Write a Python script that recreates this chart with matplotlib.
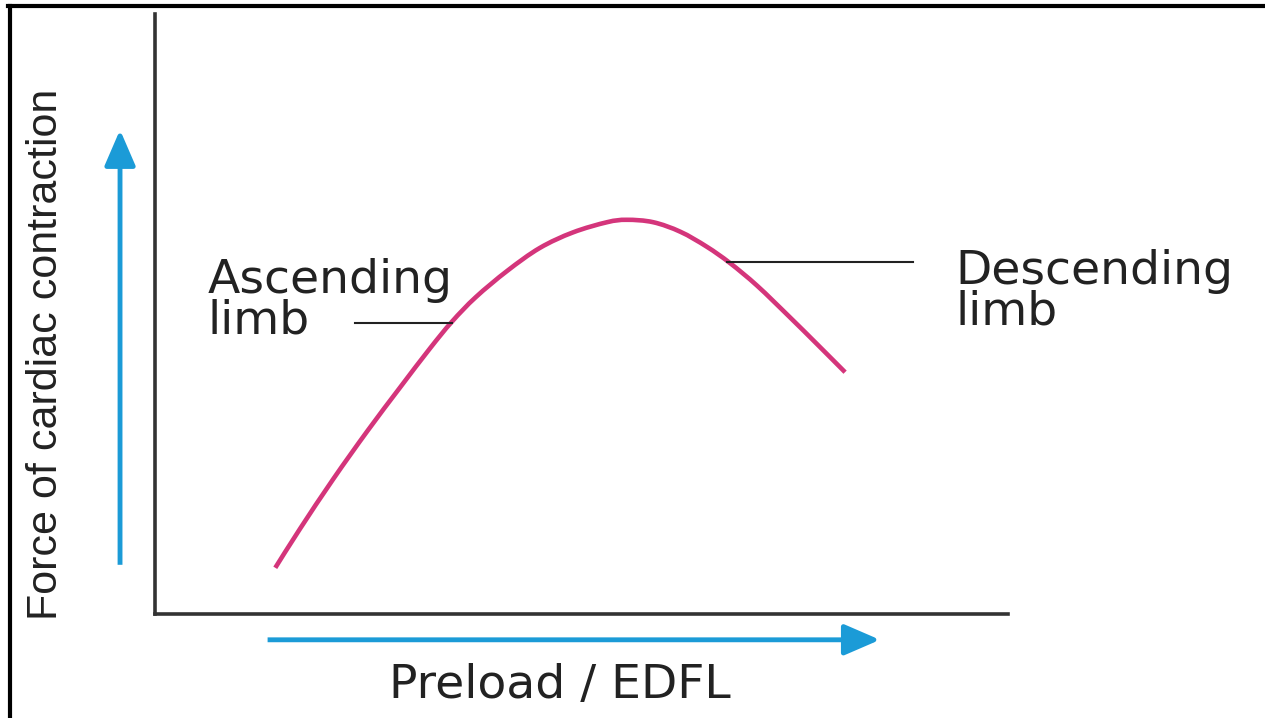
import matplotlib
matplotlib.use("Agg")
import matplotlib.pyplot as plt
from matplotlib.lines import Line2D
from matplotlib.patches import FancyArrowPatch, PathPatch
from matplotlib.path import Path

# curve
preload = [1.41, 1.70, 2.09, 2.49, 2.87, 3.22, 3.48, 3.76, 4.13, 4.51, 4.90,
           5.30, 5.53, 5.84, 6.16, 6.47, 6.74, 7.06, 7.44, 7.76, 8.09]
force = [0.77, 1.42, 2.25, 3.05, 3.77, 4.42, 4.87, 5.28, 5.72, 6.10, 6.36,
         6.53, 6.57, 6.53, 6.37, 6.12, 5.85, 5.47, 4.95, 4.50, 4.03]

x_label = "Preload / EDFL"
y_label = "Force of cardiac contraction"
asc_label = "Ascending\nlimb"
desc_label = "Descending\nlimb"


def smooth_path(xs, ys):
    # Catmull-Rom through the read points, drawn as cubic Bezier segments
    pts = list(zip(xs, ys))
    n = len(pts)
    verts = [pts[0]]
    codes = [Path.MOVETO]
    for i in range(n - 1):
        p0 = pts[max(i - 1, 0)]
        p1 = pts[i]
        p2 = pts[i + 1]
        p3 = pts[min(i + 2, n - 1)]
        c1 = (p1[0] + (p2[0] - p0[0]) / 6, p1[1] + (p2[1] - p0[1]) / 6)
        c2 = (p2[0] - (p3[0] - p1[0]) / 6, p2[1] - (p3[1] - p1[1]) / 6)
        verts += [c1, c2, p2]
        codes += [Path.CURVE4] * 3
    return Path(verts, codes)


W, H = 1265, 718
fig = plt.figure(figsize=(W / 100, H / 100), dpi=100)
fig.patch.set_facecolor("white")

# axes box in pixels: left 155, right 1008, top 14, bottom 614
ax = fig.add_axes([155 / W, (H - 614) / H, 853 / W, 600 / H])
ax.set_xlim(0, 10)
ax.set_ylim(0, 10)
ax.set_facecolor("none")
for s in ["top", "right"]:
    ax.spines[s].set_visible(False)
for s in ["left", "bottom"]:
    ax.spines[s].set_color("#333333")
    ax.spines[s].set_linewidth(2.6)
ax.set_xticks([])
ax.set_yticks([])

pink = "#d4357b"
blue = "#1b9bd7"
ink = "#222222"

ax.add_patch(PathPatch(smooth_path(preload, force), facecolor="none",
                       edgecolor=pink, lw=3.3, capstyle="butt", clip_on=False))

# leader lines
ax.plot([2.34, 3.48], [4.85, 4.85], color=ink, lw=1.5, clip_on=False)
ax.plot([6.71, 8.89], [5.87, 5.87], color=ink, lw=1.5, clip_on=False)

# blue direction arrows
style = "-|>,head_length=2.2,head_width=0.95"
for a, b in [((-0.41, 0.82), (-0.41, 8.07)), ((1.32, -0.43), (8.50, -0.43))]:
    arr = FancyArrowPatch(a, b, arrowstyle=style, mutation_scale=10,
                          color=blue, lw=3.5, shrinkA=0, shrinkB=0,
                          clip_on=False, capstyle="butt")
    ax.add_patch(arr)

# va="baseline" on two lines sits on the last line's baseline
fs = 34
ax.text(0.62, 4.68, asc_label, fontsize=fs, color=ink, ha="left", va="baseline",
        linespacing=0.85)
ax.text(9.38, 4.83, desc_label, fontsize=fs, color=ink, ha="left", va="baseline",
        linespacing=0.85)

ax.text(4.75, -1.40, x_label, fontsize=34, color=ink, ha="center", va="baseline")
ax.text(-1.28, 4.33, y_label, fontsize=31, color=ink, rotation=90,
        ha="center", va="center", family=["Liberation Sans", "DejaVu Sans"])

# black frame on the left and top edges
fig.add_artist(Line2D([10 / W, 10 / W], [0, 1 - 5.5 / H], transform=fig.transFigure,
                      color="black", lw=3.0))
fig.add_artist(Line2D([8 / W, 1], [1 - 5.5 / H, 1 - 5.5 / H], transform=fig.transFigure,
                      color="black", lw=3.0))

fig.savefig("out.png", dpi=100)
